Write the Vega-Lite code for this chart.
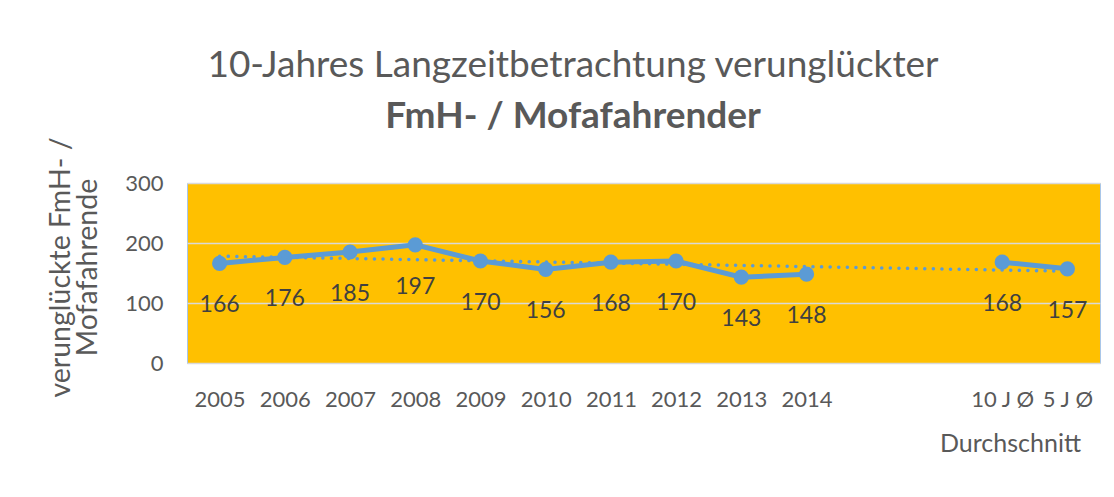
{
  "$schema": "https://vega.github.io/schema/vega-lite/v6.json",
  "autosize": {"type": "none"},
  "width": 913,
  "height": 180,
  "padding": {"left": 187, "top": 183, "right": 14, "bottom": 134},
  "background": "#ffffff",
  "config": {
    "font": "Lato",
    "view": {"fill": "#FFC000", "stroke": "#A9C6E8", "strokeWidth": 1}
  },
  "title": {
    "text": "10-Jahres Langzeitbetrachtung verunglückter",
    "subtitle": "FmH- / Mofafahrender",
    "font": "Lato",
    "subtitleFont": "Lato",
    "fontSize": 37,
    "subtitleFontSize": 37,
    "fontWeight": "normal",
    "subtitleFontWeight": "bold",
    "color": "#595959",
    "subtitleColor": "#595959",
    "anchor": "middle",
    "frame": "bounds",
    "offset": 1,
    "subtitlePadding": 14
  },
  "datasets": {
    "werte": [
      {"Kategorie": "2005", "Anzahl": 166, "Reihe": "Jahre"},
      {"Kategorie": "2006", "Anzahl": 176, "Reihe": "Jahre"},
      {"Kategorie": "2007", "Anzahl": 185, "Reihe": "Jahre"},
      {"Kategorie": "2008", "Anzahl": 197, "Reihe": "Jahre"},
      {"Kategorie": "2009", "Anzahl": 170, "Reihe": "Jahre"},
      {"Kategorie": "2010", "Anzahl": 156, "Reihe": "Jahre"},
      {"Kategorie": "2011", "Anzahl": 168, "Reihe": "Jahre"},
      {"Kategorie": "2012", "Anzahl": 170, "Reihe": "Jahre"},
      {"Kategorie": "2013", "Anzahl": 143, "Reihe": "Jahre"},
      {"Kategorie": "2014", "Anzahl": 148, "Reihe": "Jahre"},
      {"Kategorie": "10 J Ø", "Anzahl": 168, "Reihe": "Durchschnitt"},
      {"Kategorie": "5 J Ø", "Anzahl": 157, "Reihe": "Durchschnitt"}
    ],
    "trend": [
      {"Kategorie": "2005", "Anzahl": 178},
      {"Kategorie": "5 J Ø", "Anzahl": 153}
    ]
  },
  "encoding": {
    "x": {
      "field": "Kategorie",
      "type": "nominal",
      "sort": null,
      "scale": {
        "type": "point",
        "padding": 0.5,
        "domain": ["2005", "2006", "2007", "2008", "2009", "2010", "2011", "2012", "2013", "2014", "leer1", "leer2", "10 J Ø", "5 J Ø"]
      },
      "axis": {
        "labelExpr": "indexof(datum.value, 'leer') == 0 ? '' : datum.value",
        "labelAngle": 0,
        "labelFontSize": 22,
        "labelColor": "#595959",
        "labelPadding": 26,
        "labelBaseline": "top",
        "domain": false,
        "ticks": false,
        "grid": false,
        "title": "Durchschnitt",
        "titleFontSize": 25,
        "titleFontWeight": "normal",
        "titleColor": "#595959",
        "titleX": 823,
        "titleY": 80,
        "titleAlign": "center",
        "titleBaseline": "middle"
      }
    },
    "y": {
      "field": "Anzahl",
      "type": "quantitative",
      "scale": {"domain": [0, 300], "nice": false, "zero": true},
      "axis": {
        "values": [0, 100, 200, 300],
        "labelFontSize": 22,
        "labelColor": "#595959",
        "labelPadding": 24,
        "domain": false,
        "ticks": false,
        "grid": true,
        "gridColor": "#D9D9D9",
        "gridWidth": 1.5,
        "title": ["verunglückte FmH- /", "Mofafahrende"],
        "titleFontSize": 28.5,
        "titleFontWeight": "normal",
        "titleColor": "#595959",
        "titleLineHeight": 27,
        "titleX": -127,
        "titleY": 84,
        "titleAngle": -90,
        "titleAlign": "center",
        "titleBaseline": "middle"
      }
    }
  },
  "layer": [
    {
      "data": {"name": "werte"},
      "mark": {"type": "line", "color": "#5B9BD5", "strokeWidth": 5},
      "encoding": {"detail": {"field": "Reihe"}}
    },
    {
      "data": {"name": "werte"},
      "mark": {"type": "point", "shape": "circle", "filled": true, "opacity": 1, "color": "#5B9BD5", "size": 230}
    },
    {
      "data": {"name": "trend"},
      "mark": {"type": "line", "color": "#5B9BD5", "strokeWidth": 3.5, "strokeDash": [0.1, 8.5], "strokeCap": "round"}
    },
    {
      "data": {"name": "werte"},
      "mark": {"type": "text", "dy": 42, "fontSize": 23, "color": "#404040"},
      "encoding": {"text": {"field": "Anzahl", "type": "quantitative"}}
    }
  ]
}
